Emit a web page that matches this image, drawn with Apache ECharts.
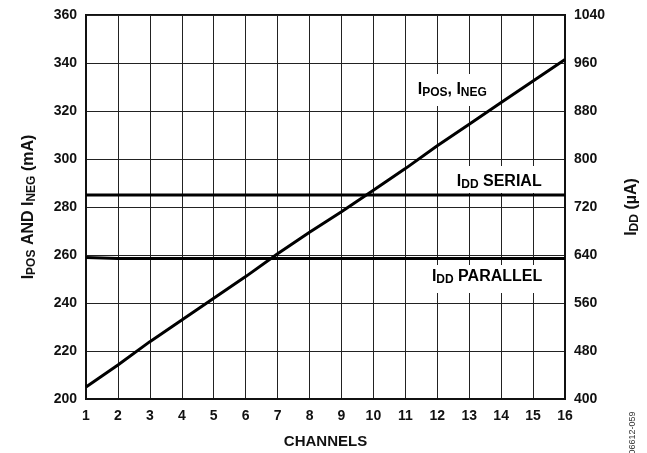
<!DOCTYPE html>
<html>
<head>
<meta charset="utf-8">
<script src="https://cdn.jsdelivr.net/npm/echarts@6/dist/echarts.min.js"></script>
<style>
  html, body { margin: 0; padding: 0; background: #fff; }
  #chart { width: 647px; height: 453px; }
</style>
</head>
<body>
<div id="chart"></div>
<script>
// Supply current vs. number of active channels
const channels = [1, 2, 3, 4, 5, 6, 7, 8, 9, 10, 11, 12, 13, 14, 15, 16];
// I_POS / I_NEG (mA), left axis
const iPosNeg = [205, 214.2, 223.9, 232.9, 242, 251, 260.5, 269.5, 278, 287, 296, 305.5, 314.5, 323.5, 332.5, 341.5];
// I_DD serial interface (µA), right axis
const iddSerial = [740, 740, 740, 740, 740, 740, 740, 740, 740, 740, 740, 740, 740, 740, 740, 740];
// I_DD parallel interface (µA), right axis
const iddParallel = [636, 634, 634, 634, 634, 634, 634, 634, 634, 634, 634, 634, 634, 634, 634, 634];

const leftTicks = { min: 200, max: 360, step: 20 };
const rightTicks = { min: 400, max: 1040, step: 80 };

const FONT = 'Liberation Sans, Arial, sans-serif';
const INK = '#111';

const pairs = (ys) => channels.map((c, i) => [c, ys[i]]);

const tickLabel = { color: INK, fontFamily: FONT, fontWeight: 'bold', fontSize: 14, formatter: (v) => String(v) };
const richFor = (main, sub) => ({
  m: { fontFamily: FONT, fontWeight: 'bold', fontSize: main, color: INK, lineHeight: main + 2 },
  s: { fontFamily: FONT, fontWeight: 'bold', fontSize: sub, color: INK, lineHeight: sub, verticalAlign: 'bottom' }
});
const titleRich = richFor(16, 12);
const curveRich = richFor(16, 12);

const chart = echarts.init(document.getElementById('chart'), null, { renderer: 'canvas' });

chart.setOption({
  animation: false,
  backgroundColor: '#fff',
  grid: {
    left: 86, right: 82, top: 15, bottom: 54,
    outerBoundsMode: 'none',
    show: true, borderColor: INK, borderWidth: 2, backgroundColor: 'transparent'
  },
  xAxis: {
    type: 'value',
    min: 1, max: 16, interval: 1,
    name: 'CHANNELS',
    nameLocation: 'middle',
    nameGap: 35,
    nameTextStyle: { color: INK, fontFamily: FONT, fontWeight: 'bold', fontSize: 15 },
    axisLine: { show: true, lineStyle: { color: INK, width: 2 } },
    axisTick: { show: false },
    axisLabel: Object.assign({}, tickLabel, { margin: 10 }),
    splitLine: { show: true, lineStyle: { color: '#222', width: 1 } }
  },
  yAxis: [
    {
      type: 'value',
      position: 'left',
      min: leftTicks.min, max: leftTicks.max, interval: leftTicks.step,
      name: '{m|I}{s|POS}{m| AND I}{s|NEG}{m| (mA)}',
      nameLocation: 'middle',
      nameRotate: 90,
      nameGap: 48,
      nameTextStyle: { rich: titleRich },
      axisLine: { show: true, lineStyle: { color: INK, width: 2 } },
      axisTick: { show: false },
      axisLabel: Object.assign({}, tickLabel, { margin: 9 }),
      splitLine: { show: true, lineStyle: { color: '#222', width: 1 } }
    },
    {
      type: 'value',
      position: 'right',
      min: rightTicks.min, max: rightTicks.max, interval: rightTicks.step,
      name: '{m|I}{s|DD}{m| (µA)}',
      nameLocation: 'middle',
      nameRotate: 90,
      nameGap: 58,
      nameTextStyle: { rich: titleRich },
      axisLine: { show: true, lineStyle: { color: INK, width: 2 } },
      axisTick: { show: false },
      axisLabel: Object.assign({}, tickLabel, { margin: 9 }),
      splitLine: { show: false }
    }
  ],
  series: [
    {
      name: 'IPOS_INEG', type: 'line', yAxisIndex: 0,
      data: pairs(iPosNeg), symbol: 'none', z: 5,
      lineStyle: { color: '#000', width: 3 }
    },
    {
      name: 'IDD_SERIAL', type: 'line', yAxisIndex: 1,
      data: pairs(iddSerial), symbol: 'none', z: 4,
      lineStyle: { color: '#000', width: 3 }
    },
    {
      name: 'IDD_PARALLEL', type: 'line', yAxisIndex: 1,
      data: pairs(iddParallel), symbol: 'none', z: 4,
      lineStyle: { color: '#000', width: 3 }
    }
  ]
});

// Curve labels, anchored in data space and boxed in white so they break the grid
const labelBox = (text, x, y, yAxisIndex, pad) => {
  const p = chart.convertToPixel({ xAxisIndex: 0, yAxisIndex: yAxisIndex }, [x, y]);
  return {
    type: 'text', x: p[0], y: p[1], z: 3,
    style: {
      text: text, rich: curveRich,
      align: 'center', verticalAlign: 'middle',
      backgroundColor: '#fff', padding: pad
    }
  };
};

chart.setOption({
  graphic: [
    labelBox('{m|I}{s|POS}{m|, I}{s|NEG}', 12.47, 328.8, 0, [7, 3, 7, 3]),
    labelBox('{m|I}{s|DD}{m| SERIAL}', 13.94, 766, 1, [7, 3, 2, 3]),
    labelBox('{m|I}{s|DD}{m| PARALLEL}', 13.56, 600, 1, [3, 3, 7, 3]),
    {
      type: 'text', x: 633, y: 433, rotation: Math.PI / 2, z: 10,
      style: {
        text: '06612-059', fill: '#333', fontFamily: FONT, fontSize: 9,
        align: 'center', verticalAlign: 'middle'
      }
    }
  ]
});
</script>
</body>
</html>
